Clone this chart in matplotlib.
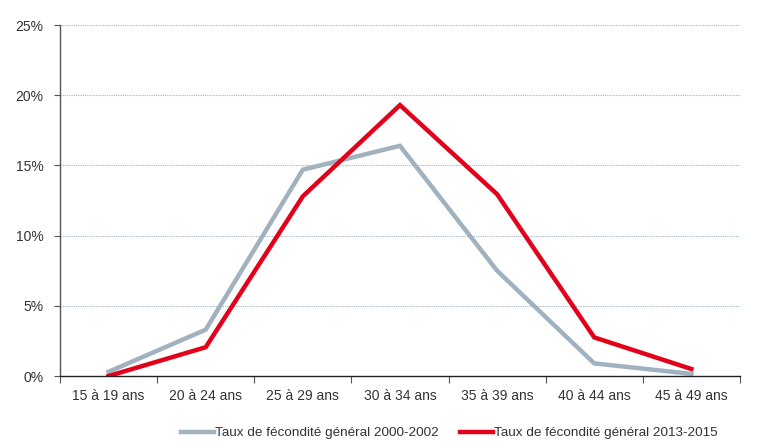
import matplotlib
matplotlib.use("Agg")
import matplotlib.pyplot as plt
from matplotlib.ticker import FuncFormatter, FixedLocator
import numpy as np

categories = ["15 à 19 ans", "20 à 24 ans", "25 à 29 ans", "30 à 34 ans",
              "35 à 39 ans", "40 à 44 ans", "45 à 49 ans"]
taux_2000_2002 = [0.3, 3.3, 14.7, 16.4, 7.5, 0.9, 0.15]
taux_2013_2015 = [0.0, 2.05, 12.8, 19.3, 12.95, 2.75, 0.5]
series_labels = ["Taux de fécondité général 2000-2002",
                 "Taux de fécondité général 2013-2015"]
yticks = [0, 5, 10, 15, 20, 25]

plt.rcParams['font.family'] = ['Liberation Sans', 'DejaVu Sans']

fig = plt.figure(figsize=(7.66, 4.48), dpi=100)
ax = fig.add_axes([0.0783, 0.1607, 0.8877, 0.7833])

x = np.arange(len(categories))
ax.plot(x, taux_2000_2002, color="#a0b2c0", lw=3.2, label=series_labels[0],
        solid_joinstyle="miter")
ax.plot(x, taux_2013_2015, color="#e2001a", lw=3.2, label=series_labels[1],
        solid_joinstyle="miter")

ax.set_xlim(-0.5, len(categories) - 0.5)
ax.set_ylim(0, 25)
ax.set_yticks(yticks)
ax.yaxis.set_major_formatter(FuncFormatter(lambda v, p: f"{int(v)}%"))
ax.xaxis.set_major_locator(FixedLocator(np.arange(-0.5, len(categories), 1.0)))
ax.set_xticklabels([])
ax.set_xticks(x, minor=True)
ax.set_xticklabels(categories, minor=True)
ax.tick_params(axis="x", which="minor", length=0, pad=9, labelsize=10, colors="#333333")
ax.tick_params(axis="x", which="major", length=5, color="#555555", direction="out")
ax.tick_params(axis="y", length=4, color="#555555", pad=8, labelsize=10, labelcolor="#333333")

for y in yticks[1:]:
    ax.axhline(y, color="#9fb4c8", lw=0.8, ls=(0, (1, 1)), zorder=0)

for s in ["top", "right"]:
    ax.spines[s].set_visible(False)
ax.spines["left"].set_color("#555555")
ax.spines["left"].set_linewidth(1.0)
ax.spines["bottom"].set_color("#222222")
ax.spines["bottom"].set_linewidth(1.0)

fig.legend(loc="center", bbox_to_anchor=(0.587, 0.033), ncol=2, frameon=False,
           fontsize=9.7, handlelength=2.45, handletextpad=0.05, columnspacing=1.6,
           labelcolor="#333333")

fig.savefig("out.png", dpi=100)
